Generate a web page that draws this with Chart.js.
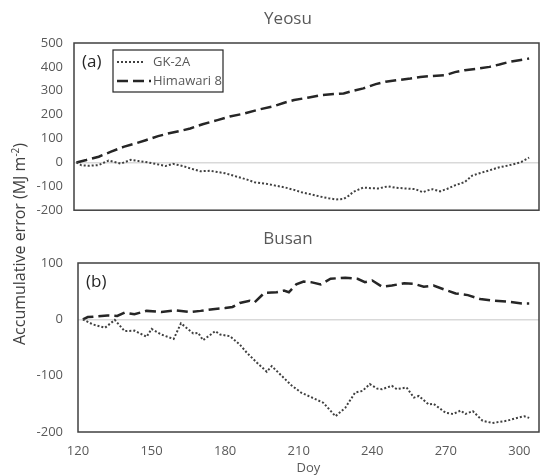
<!DOCTYPE html>
<html>
<head>
<meta charset="utf-8">
<script src="https://cdn.jsdelivr.net/npm/chart.js"></script>
<style>
body{margin:0;background:#fff;}
#wrap{position:relative;width:541px;height:476px;}
#yeosu_Chart{position:absolute;left:0;top:0;}
#busan_Chart{position:absolute;left:0;top:215px;}
#y_title{position:absolute;left:-132px;top:234px;width:300px;height:20px;line-height:20px;text-align:center;transform:rotate(-90deg);white-space:nowrap;font:16px 'Open Sans';color:#404040;}
#y_title sup{font-size:10px;}
</style>
</head>
<body>
<div id="wrap">
  <canvas id="yeosu_Chart" width="541" height="229"></canvas>
  <canvas id="busan_Chart" width="541" height="261"></canvas>
  <div id="y_title">Accumulative error (MJ m<sup>-2</sup>)</div>
</div>
<script>
// series labels + panel names
var seriesLabels = ['GK-2A', 'Himawari 8'];
var panelTitles = ['Yeosu', 'Busan'];
var panelTags = ['(a)', '(b)'];
var dayTicks = [120, 150, 180, 210, 240, 270, 300];
var yeosuTicks = [-200, -100, 0, 100, 200, 300, 400, 500];
var busanTicks = [-200, -100, 0, 100];

// Yeosu - Himawari 8
var ysHimDay = [121,125,130,135,140,145,149,154,158,163,167,172,178,183,189,195,201,205,209,215,220,225,229,233,237,242,246,251,256,260,264,270,274,278,283,288,292,296,300,304];
var ysHimVal = [0,10,24,45,65,80,93,110,121,132,142,160,177,192,205,222,236,250,261,272,282,286,289,300,310,328,338,345,351,358,361,365,378,386,392,400,410,421,428,435];

// Yeosu - GK-2A
var ysGkDay = [121,123,126,130,134,136,139,143,146,150,153,157,160,164,167,171,175,178,181,186,190,193,197,201,205,209,212,216,220,223,226,229,231,233,235,237,240,243,247,250,254,258,261,263,265,268,271,274,278,281,284,288,292,295,299,301,304];
var ysGkVal = [0,-12,-14,-11,8,3,-5,11,6,0,-6,-15,-6,-15,-25,-37,-35,-40,-45,-60,-72,-83,-88,-96,-104,-115,-125,-134,-144,-150,-155,-153,-140,-123,-114,-105,-108,-109,-100,-106,-109,-112,-125,-117,-112,-121,-110,-96,-82,-55,-45,-33,-20,-14,-4,3,20];

// Busan - Himawari 8
var bsHimDay = [122,124,127,132,136,139,143,148,154,160,166,170,175,180,183,186,190,192,196,201,204,206,209,212,215,219,223,229,234,237,240,244,248,253,257,261,265,270,274,279,284,290,296,301,304];
var bsHimVal = [0,4,5,7,6,12,9,15,13,16,13,15,18,20,22,29,33,30,47,48,51,48,62,67,66,62,72,74,72,66,69,58,60,64,63,58,60,52,46,43,36,33,31,28,28];

// Busan - GK-2A
var bsGkDay = [122,126,131,135,139,143,148,150,154,159,162,167,169,171,176,178,182,186,189,193,197,199,203,207,211,216,220,225,229,233,236,239,242,244,248,250,254,257,259,263,265,270,273,276,278,281,285,289,295,299,302,304];
var bsGkVal = [0,-9,-15,-1,-21,-20,-31,-17,-27,-35,-7,-25,-24,-37,-21,-27,-30,-45,-60,-77,-93,-83,-100,-117,-130,-140,-148,-172,-157,-130,-127,-115,-123,-124,-118,-124,-121,-139,-136,-151,-150,-166,-168,-162,-168,-163,-180,-184,-180,-175,-172,-175];

function pts(days, vals){
    var out = new Array();
    for(var i=0; i<days.length; i++){
        out.push({x:days[i], y:vals[i]});
    }
    return out;
}

var textFont = "'Open Sans'";

// frame, title, (a)/(b) tag and the boxed legend
var panelDecor = {
    id:'panelDecor',
    afterDraw:function(chart, args, opts){
        var a = chart.chartArea, ctx = chart.ctx;
        ctx.save();
        ctx.strokeStyle = '#404040';
        ctx.lineWidth = 1.5;
        ctx.strokeRect(a.left, a.top, a.right-a.left, a.bottom-a.top);

        ctx.textBaseline = 'middle';
        ctx.textAlign = 'center';
        ctx.fillStyle = '#595959';
        ctx.font = '17px ' + textFont;
        ctx.fillText(opts.title, 288, a.top - 24);

        ctx.textAlign = 'left';
        ctx.fillStyle = '#262626';
        ctx.font = '17px ' + textFont;
        ctx.fillText(opts.tag, a.left + 8, a.top + 19);

        if(opts.legend){
            var lx = a.left + 39, ly = a.top + 7;
            ctx.strokeStyle = '#262626';
            ctx.lineWidth = 1.2;
            ctx.strokeRect(lx, ly, 110, 42);
            var ds = chart.data.datasets;
            ctx.font = '13px ' + textFont;
            for(var i=0; i<ds.length; i++){
                var yy = ly + 12 + i*19;
                ctx.beginPath();
                ctx.setLineDash(ds[i].borderDash);
                ctx.strokeStyle = ds[i].borderColor;
                ctx.lineWidth = ds[i].borderWidth;
                ctx.moveTo(lx + 4, yy);
                ctx.lineTo(lx + (i==0 ? 32 : 38), yy);
                ctx.stroke();
                ctx.setLineDash([]);
                ctx.fillStyle = '#595959';
                ctx.fillText(ds[i].label, lx + 40, yy);
            }
        }
        ctx.restore();
    }
};

function makeDatasets(gkDay, gkVal, himDay, himVal){
    return [{
        label:seriesLabels[0], data:pts(gkDay, gkVal),
        borderColor:'#404040', borderWidth:2, borderDash:[2,2],
        pointRadius:0, tension:0, fill:false
    },{
        label:seriesLabels[1], data:pts(himDay, himVal),
        borderColor:'#262626', borderWidth:2.5, borderDash:[11,5],
        pointRadius:0, tension:0, fill:false
    }];
}

function yScale(tickList, width, pad){
    return {
        type:'linear',
        min:tickList[0], max:tickList[tickList.length-1],
        afterBuildTicks:function(s){ s.ticks = tickList.map(function(v){ return {value:v}; }); },
        afterFit:function(s){ s.width = width; },
        border:{display:false},
        grid:{
            drawTicks:false, lineWidth:1.5,
            color:function(c){ return c.tick && c.tick.value === 0 ? '#d9d9d9' : 'rgba(0,0,0,0)'; }
        },
        ticks:{color:'#595959', padding:pad, font:{family:textFont, size:13}}
    };
}

var yeosuChart = new Chart(document.getElementById('yeosu_Chart'), {
    type:'line',
    data:{datasets:makeDatasets(ysGkDay, ysGkVal, ysHimDay, ysHimVal)},
    plugins:[panelDecor],
    options:{
        responsive:false,
        animation:false,
        layout:{padding:{top:43, right:2, left:0, bottom:6}},
        plugins:{
            legend:{display:false},
            tooltip:{enabled:false},
            panelDecor:{title:panelTitles[0], tag:panelTags[0], legend:true}
        },
        scales:{
            x:{
                type:'linear', min:120, max:308, display:false
            },
            y:yScale(yeosuTicks, 74, 11)
        }
    }
});

var busanChart = new Chart(document.getElementById('busan_Chart'), {
    type:'line',
    data:{datasets:makeDatasets(bsGkDay, bsGkVal, bsHimDay, bsHimVal)},
    plugins:[panelDecor],
    options:{
        responsive:false,
        animation:false,
        layout:{padding:{top:48, right:2, left:0, bottom:0}},
        plugins:{
            legend:{display:false},
            tooltip:{enabled:false},
            panelDecor:{title:panelTitles[1], tag:panelTags[1], legend:false}
        },
        scales:{
            x:{
                type:'linear', min:120, max:308,
                afterBuildTicks:function(s){ s.ticks = dayTicks.map(function(v){ return {value:v}; }); },
                afterFit:function(s){ s.height = 44; },
                grid:{display:false}, border:{display:false},
                ticks:{color:'#595959', padding:3, maxRotation:0, font:{family:textFont, size:13}},
                title:{display:true, text:'Doy', color:'#595959', padding:{top:0, bottom:0}, font:{family:textFont, size:13}}
            },
            y:yScale(busanTicks, 78, 15)
        }
    }
});
</script>
</body>
</html>
